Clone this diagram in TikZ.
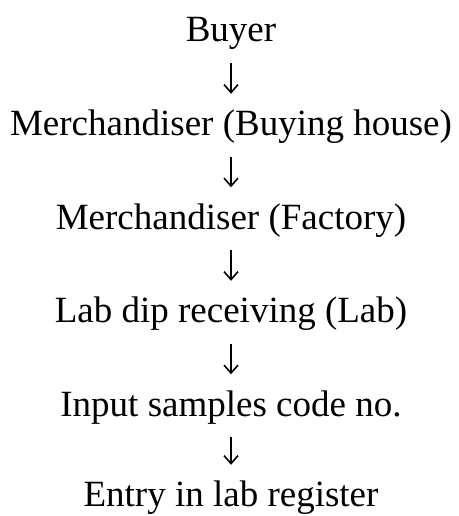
\documentclass[tikz,border=0pt]{standalone}
\usepackage{fontspec}
\setmainfont{Liberation Serif}
\usetikzlibrary{arrows.meta}
\begin{document}
\begin{tikzpicture}[x=1pt,y=1pt,
  stage/.style={anchor=base,inner sep=0pt,text height=25.5pt,text depth=9pt,
    font=\fontsize{37}{44}\selectfont},
  flow/.style={-{Straight Barb[length=8pt,width=14pt]},line width=1.6pt,
    shorten <=12pt,shorten >=16pt}]
  % Frame
  \useasboundingbox (0,0) rectangle (458,-516);
  % Steps, one per line
  \node[stage] (buyer) at (231,-42) {Buyer};
  \node[stage] (mbh) at (231,-135.5) {Merchandiser (Buying house)};
  \node[stage] (mfac) at (231,-229) {Merchandiser (Factory)};
  \node[stage] (labdip) at (231,-322.5) {Lab dip receiving (Lab)};
  \node[stage] (code) at (231,-416) {Input samples code no.};
  \node[stage] (entry) at (231,-506.5) {Entry in lab register};
  % Down arrows between the steps
  \draw[flow] (buyer.south) -- (mbh.north);
  \draw[flow] (mbh.south) -- (mfac.north);
  \draw[flow] (mfac.south) -- (labdip.north);
  \draw[flow] (labdip.south) -- (code.north);
  \draw[flow] (code.south) -- (entry.north);
\end{tikzpicture}
\end{document}
